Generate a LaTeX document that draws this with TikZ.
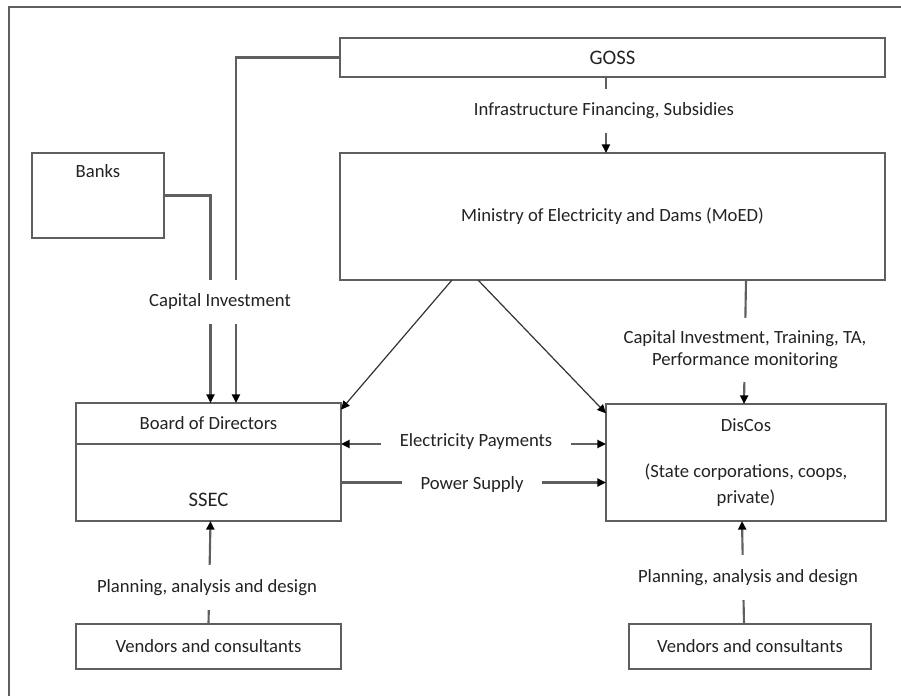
\documentclass[tikz,border=0pt]{standalone}
\usepackage{fontspec}
\setmainfont{Carlito}
\usetikzlibrary{arrows.meta}
\definecolor{linegray}{RGB}{95,95,95}
\definecolor{txtgray}{RGB}{35,35,35}
\tikzset{
	tip/.tip={Triangle[length=6.5pt,width=6pt,color=black]},
	box/.style={draw=linegray,line width=1.6pt,inner sep=0pt,outer sep=0pt,text=txtgray,align=center},
	conn/.style={draw=linegray,line width=1.6pt},
	arr/.style={conn,-tip},
	diag/.style={draw=black!80,line width=0.9pt,-tip},
	vlbl/.style={fill=white,text=txtgray,inner xsep=2pt,inner ysep=10.5pt,align=center},
	hlbl/.style={fill=white,text=txtgray,inner xsep=14pt,inner ysep=3pt}
}
\begin{document}
\begin{tikzpicture}[x=0.75pt,y=-0.75pt,font=\fontsize{14}{16.5}\selectfont]
	\useasboundingbox (0,0) rectangle (901,696);
	
	% Frame
	\draw[linegray,line width=1.8pt] (9,700) -- (9,7) -- (905,7);
	
	% Boxes
	\node[box,minimum width=408.75pt,minimum height=29.25pt,font=\fontsize{15.5}{18}\selectfont] (goss) at (612.5,57.5) {GOSS};
	\node[box,minimum width=99pt,minimum height=63.75pt,
		label={[name=bankstxt,anchor=center,yshift=-13.5pt,text=txtgray]north:Banks}] (banks) at (98,195.5) {};
	\node[box,minimum width=408.75pt,minimum height=95.25pt] (ministry) at (612.5,216.5) {Ministry of Electricity and Dams (MoED)};
	\node[box,minimum width=198.75pt,minimum height=30.75pt] (board) at (208.5,423.5) {Board of Directors};
	\node[box,minimum width=198.75pt,minimum height=57.75pt,
		label={[name=ssectxt,anchor=center,yshift=15.75pt,text=txtgray,font=\fontsize{15.5}{18}\selectfont]south:SSEC}] (ssec) at (208.5,482.5) {};
	\node[box,minimum width=210pt,minimum height=87.75pt,font=\fontsize{14}{19.5}\selectfont] (discos) at (746,462.5)
		{DisCos\\[15pt](State corporations, coops,\\private)};
	\node[box,minimum width=198.75pt,minimum height=33.75pt] (vendL) at (208.5,646.5) {Vendors and consultants};
	\node[box,minimum width=181.5pt,minimum height=33.75pt] (vendR) at (750,646.5) {Vendors and consultants};
	
	% Connectors
	\draw[arr] ([xshift=-4.9pt]goss.south) -- ([xshift=-4.9pt]ministry.north);
	\draw[arr] (goss.west) -| ([xshift=20.6pt]board.north);
	\draw[arr] (banks.east) -| ([xshift=1.5pt]board.north);
	\draw[diag] ([xshift=84pt]ministry.south west) -- ([yshift=-5pt]board.north east);
	\draw[diag] ([xshift=103.5pt]ministry.south west) -- ([yshift=-7pt]discos.north west);
	\draw[arr] (ministry.south -| discos.north) -- ([xshift=-1.5pt]discos.north);
	\draw[conn,tip-tip] (board.south east) -- (board.south east -| discos.west);
	\draw[arr] (ssec.east) -- (ssec.east -| discos.west);
	\draw[arr] (vendL.north -| board.north) -- ([xshift=1.5pt]ssec.south);
	\draw[arr] ([xshift=-4.5pt]vendR.north) -- ([xshift=-3pt]discos.south);
	
	% Labels on connectors
	\node[vlbl] (infra) at (604,111) {Infrastructure Financing, Subsidies};
	\node[vlbl] (capinv) at (220,302) {Capital Investment};
	\node[vlbl,inner ysep=10pt] (captrain) at (745,350)
		{Capital Investment, Training, TA,\\Performance monitoring};
	\node[hlbl] (elec) at (476,442) {Electricity Payments};
	\node[hlbl] (power) at (472,485) {Power Supply};
	\node[vlbl] (planL) at (207,587.5) {Planning, analysis and design};
	\node[vlbl] (planR) at (748,577.5) {Planning, analysis and design};
	
\end{tikzpicture}
\end{document}
